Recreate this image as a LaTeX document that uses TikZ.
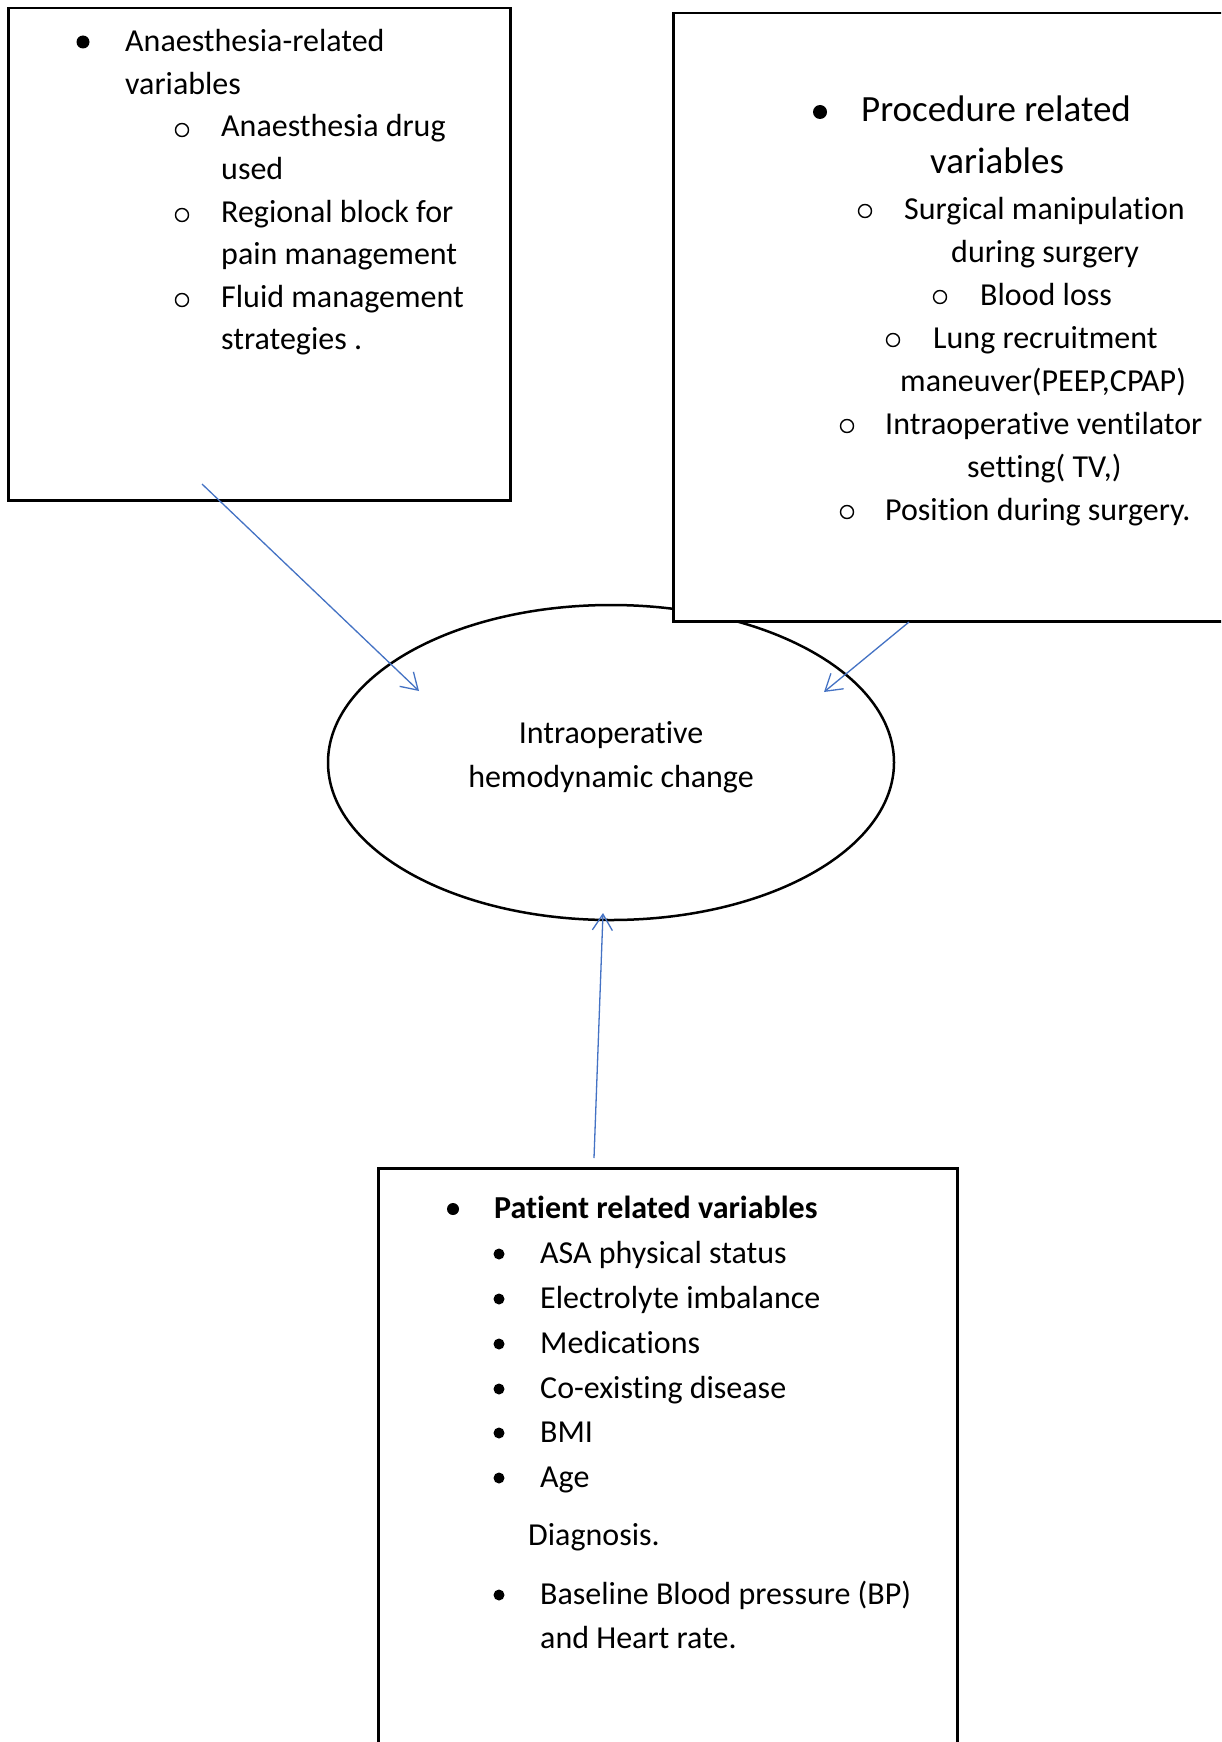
\documentclass[tikz,border=0pt]{standalone}
\usepackage{fontspec}
\setmainfont{Carlito}[Ligatures={NoCommon,NoContextual,NoRequired,NoRare},Contextuals={NoAlternate}]
\usetikzlibrary{arrows.meta,shapes.geometric}
\definecolor{arrowblue}{HTML}{4472C4}
\begin{document}
\begin{tikzpicture}[x=1pt,y=-1pt,
  boxst/.style={draw=black, fill=white, line width=2.5pt, rectangle, inner sep=0pt, anchor=north west},
  txt/.style={anchor=base west, inner sep=0pt, font=\fontsize{32}{43}\selectfont},
  bigtxt/.style={anchor=base west, inner sep=0pt, font=\fontsize{37}{51}\selectfont},
  boldtxt/.style={anchor=base west, inner sep=0pt, font=\fontsize{32}{43}\selectfont\bfseries},
  ringb/.style={draw=black, line width=1.4pt},
  conn/.style={draw=arrowblue, line width=1.3pt, -{Straight Barb[length=16pt,width=20pt]}}
]
\useasboundingbox (0,0) rectangle (1221,1742);
\clip (0,0) rectangle (1221,1742);
\fill[white] (0,0) rectangle (1221,1742);

% Box 1: anaesthesia
\node[boxst, minimum width=502pt, minimum height=492pt] (b1) at (7,7) {};
% Ellipse
\node[draw=black, line width=2.5pt, ellipse, minimum width=566pt, minimum height=315pt,
      inner sep=0pt] (ell) at (611,762.5) {};
\node[inner sep=0pt, align=center, font=\fontsize{32}{44}\selectfont] (elltxt) at (611,757)
      {Intraoperative\\hemodynamic change};
% Box 2: procedure
\node[boxst, minimum width=588pt, minimum height=608pt] (b2) at (672,12) {};
% Box 3: patient
\node[boxst, minimum width=579pt, minimum height=633pt] (b3) at (377,1167) {};

% Box 1 text
\fill (83,42) circle (6.5pt);
\node[txt] (b1l1) at (125,52) {Anaesthesia-related};
\node[txt] (b1l2) at (125,94.5) {variables};
\draw[ringb] (182,130) circle (6.5pt);
\node[txt] (b1l3) at (221,137) {Anaesthesia drug};
\node[txt] (b1l4) at (221,179.5) {used};
\draw[ringb] (182,215) circle (6.5pt);
\node[txt] (b1l5) at (221,222) {Regional block for};
\node[txt] (b1l6) at (221,264.5) {pain management};
\draw[ringb] (182,300) circle (6.5pt);
\node[txt] (b1l7) at (221,307) {Fluid management};
\node[txt] (b1l8) at (221,349.5) {strategies .};

% Box 2 text
\fill (820,112) circle (7pt);
\node[bigtxt] (b2l1) at (861,122) {Procedure related};
\node[bigtxt] (b2l2) at (930,173) {variables};
\draw[ringb] (865,211) circle (6.5pt);
\node[txt] (b2l3) at (904,219) {Surgical manipulation};
\node[txt] (b2l4) at (951,262) {during surgery};
\draw[ringb] (940,297) circle (6.5pt);
\node[txt] (b2l5) at (980,305) {Blood loss};
\draw[ringb] (893,340) circle (6.5pt);
\node[txt] (b2l6) at (933,348) {Lung recruitment};
\node[txt] (b2l7) at (900,391) {maneuver(PEEP,CPAP)};
\draw[ringb] (847,426) circle (6.5pt);
\node[txt] (b2l8) at (885,434) {Intraoperative ventilator};
\node[txt] (b2l9) at (967,477) {setting( TV,)};
\draw[ringb] (847,512) circle (6.5pt);
\node[txt] (b2l10) at (885,520) {Position during surgery.};

% Box 3 text
\fill (453,1209) circle (6pt);
\node[boldtxt] (b3l1) at (494,1218) {Patient related variables};
\foreach \yy in {1254,1299,1344,1389,1433,1478,1595} {\fill (499,\yy) circle (5.5pt);}
\node[txt] (b3l2) at (540,1263) {ASA physical status};
\node[txt] (b3l3) at (540,1308) {Electrolyte imbalance};
\node[txt] (b3l4) at (540,1353) {Medications};
\node[txt] (b3l5) at (540,1398) {Co-existing disease};
\node[txt] (b3l6) at (540,1442) {BMI};
\node[txt] (b3l7) at (540,1487) {Age};
\node[txt] (b3l8) at (528,1545) {Diagnosis.};
\node[txt] (b3l9) at (540,1604) {Baseline Blood pressure (BP)};
\node[txt] (b3l10) at (540,1648) {and Heart rate.};

% Connectors
\coordinate (a1s) at (202,484);
\coordinate (a1e) at (419,691);
\coordinate (a2s) at (909,622);
\coordinate (a2e) at (824,692);
\coordinate (a3s) at (594,1158);
\coordinate (a3e) at (603,913);
\draw[conn] (a1s) -- (a1e);
\draw[conn] (a2s) -- (a2e);
\draw[conn] (a3s) -- (a3e);
\end{tikzpicture}
\end{document}
